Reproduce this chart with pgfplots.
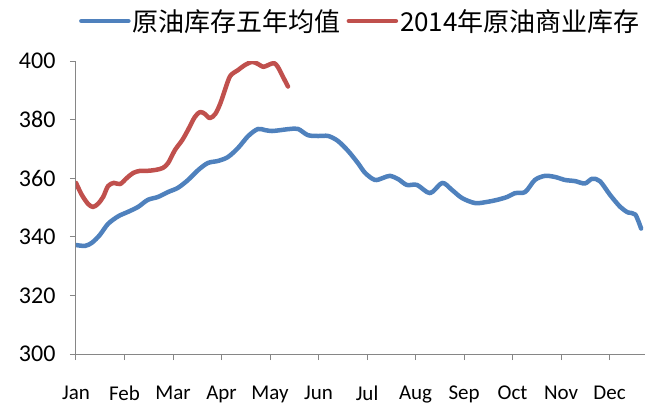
\documentclass[border=0pt]{standalone}
\usepackage{fontspec}
\setmainfont{Carlito}
\newfontfamily\cjk{Noto Sans CJK SC}
\usepackage{pgfplots}
\pgfplotsset{compat=1.18}
\definecolor{excelblue}{HTML}{4F81BD}
\definecolor{excelred}{HTML}{C0504D}
\definecolor{axisgray}{HTML}{868686}

\begin{document}
\begin{tikzpicture}
\path[use as bounding box] (-76pt,-51pt) rectangle (580pt,354pt);
\begin{axis}[
    at={(0pt,0pt)}, anchor=south west,
    scale only axis,
    width=569pt, height=293pt,
    xmin=0, xmax=11.73,
    ymin=300, ymax=400,
    ytick={300,320,...,400},
    xtick={0,...,11},
    xticklabels={Jan,Feb,Mar,Apr,May,Jun,Jul,Aug,Sep,Oct,Nov,Dec},
    axis x line*=bottom, axis y line*=left,
    axis line style={draw=axisgray, line width=1pt},
    tick style={draw=axisgray, line width=1pt},
    tick align=outside,
    major tick length=6pt,
    /pgf/number format/assume math mode=true,
    yticklabel style={font=\fontsize{24}{28}\selectfont, xshift=-11pt},
    xticklabel style={font=\fontsize{21}{25}\selectfont, yshift=-22pt},
    legend style={at={(0.5,1.1365)}, anchor=center, draw=none, fill=none,
        font=\fontsize{26}{30}\selectfont\cjk, legend columns=2,
        /tikz/every even column/.append style={column sep=4pt}},
    legend image code/.code={\draw[#1] (0pt,0pt) -- (47pt,0pt);},
    every axis plot/.append style={line width=4.5pt, smooth, tension=0.5, line cap=round, line join=round},
]
\addplot[color=excelblue] coordinates {
(0,337.2) (0.19,336.9) (0.33,338) (0.49,340.6) (0.66,344.4) (0.87,347) (1.07,348.5)
(1.28,350.2) (1.48,352.6) (1.69,353.6) (1.90,355.3) (2.10,356.7) (2.31,359.4) (2.52,362.8)
(2.72,365.2) (2.93,365.9) (3.13,367.2) (3.34,370.3) (3.55,374.4) (3.75,376.8) (3.90,376.4)
(4.04,376.1) (4.21,376.4) (4.41,376.8) (4.58,376.8) (4.78,374.7) (4.99,374.4) (5.20,374.4)
(5.40,372.7) (5.61,369.3) (5.81,365.2) (5.96,361.8) (6.16,359.4) (6.33,360.1) (6.47,360.8)
(6.64,359.7) (6.82,357.7) (7.03,357.7) (7.30,354.9) (7.55,358.4) (7.75,356) (7.96,353.2)
(8.23,351.5) (8.47,351.9) (8.68,352.6) (8.89,353.6) (9.05,354.9) (9.26,355.3) (9.46,359.4)
(9.67,360.8) (9.88,360.4) (10.08,359.4) (10.29,359) (10.49,358.2) (10.64,359.8) (10.80,359)
(11.01,354.3) (11.22,350.2) (11.38,348.3) (11.53,347.6) (11.65,342.8)
};
\addlegendentry{原油库存五年均值}
\addplot[color=excelred] coordinates {
(0,358.4) (0.12,354.3) (0.25,351.2) (0.35,350.2) (0.45,351.2) (0.56,353.6) (0.66,357.3)
(0.78,358.4) (0.91,358) (1.05,360.1) (1.18,361.8) (1.32,362.5) (1.46,362.5) (1.63,362.8)
(1.79,363.5) (1.90,365.2) (2.04,369.6) (2.19,373) (2.31,376.5) (2.45,380.9) (2.56,382.6)
(2.66,381.9) (2.76,380.5) (2.87,381.9) (2.97,385.3) (3.07,390.1) (3.18,394.9) (3.34,396.9)
(3.48,398.6) (3.63,399.7) (3.75,399) (3.86,398) (3.96,398.6) (4.08,399.3) (4.16,398)
(4.27,394.5) (4.37,391.3)
};
\addlegendentry{2014年原油商业库存}
\end{axis}
\end{tikzpicture}
\end{document}
